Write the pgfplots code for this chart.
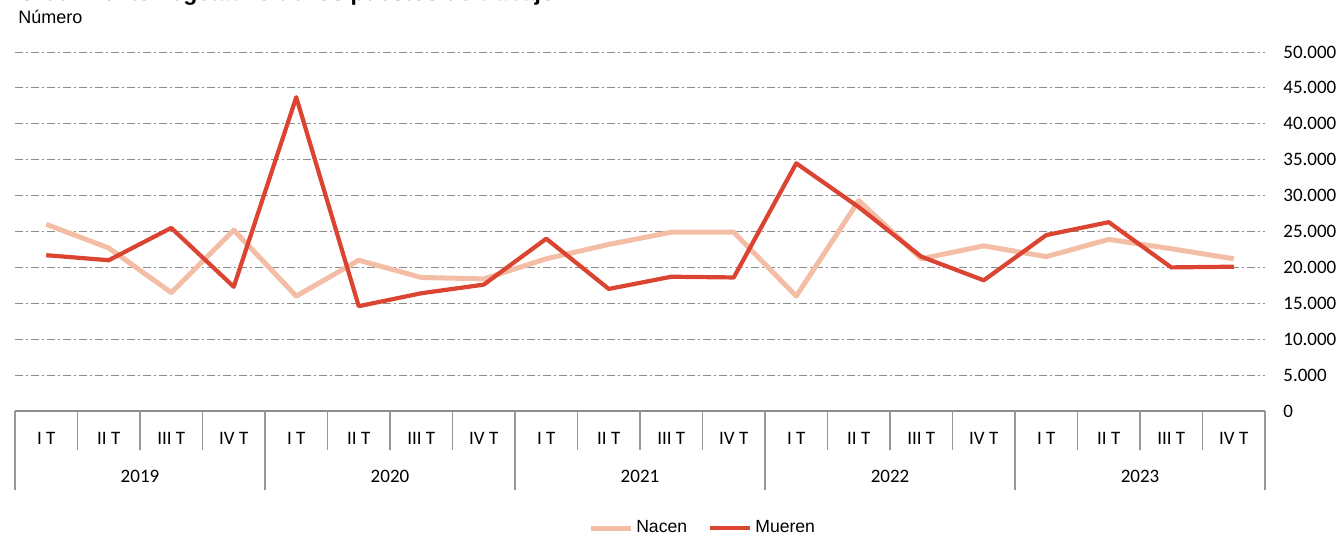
\documentclass[border=0pt]{standalone}
\usepackage{fontspec}
\setmainfont{Carlito}
\newfontfamily\arial{Liberation Sans}
\usepackage{pgfplots}
\pgfplotsset{compat=1.18}
\definecolor{nacen}{RGB}{244,190,166}
\definecolor{mueren}{RGB}{220,68,50}
\definecolor{gridc}{RGB}{140,140,140}
\definecolor{sepc}{RGB}{150,150,150}

\pgfplotstableread{
x nacen mueren
0  26000 21700
1  22700 21000
2  16500 25500
3  25200 17300
4  16000 43700
5  21000 14600
6  18600 16400
7  18400 17600
8  21200 24000
9  23200 17000
10 24900 18700
11 24900 18600
12 16000 34500
13 29300 28400
14 21200 21500
15 23000 18200
16 21500 24500
17 23900 26300
18 22600 20000
19 21200 20100
}\datatable

\begin{document}
\begin{tikzpicture}
\useasboundingbox (-7.5bp,-63bp) rectangle (663bp,205.5bp);
\begin{axis}[
  scale only axis, width=625bp, height=179.5bp,
  xmin=-0.5, xmax=19.5, ymin=0, ymax=50000,
  clip=false,
  axis line style={draw=none},
  major tick length=0pt,
  xtick={0,...,19},
  xticklabels={I T,II T,III T,IV T,I T,II T,III T,IV T,I T,II T,III T,IV T,I T,II T,III T,IV T,I T,II T,III T,IV T},
  xticklabel style={anchor=center, yshift=-13.5bp, font=\fontsize{9.5bp}{11bp}\selectfont},
  ytick={0,5000,...,50000},
  scaled y ticks=false,
  yticklabel pos=right,
  yticklabel style={anchor=west, inner sep=0pt, xshift=9bp, font=\fontsize{9.5bp}{11bp}\selectfont},
  /pgf/number format/.cd, 1000 sep={.}, assume math mode=true, /pgfplots/.cd,
  ymajorgrids,
  grid style={gridc, line width=0.5bp, dash pattern=on 4bp off 1.5bp on 1bp off 1.5bp},
  legend style={at={(0.5505,-0.326)}, anchor=center, draw=none, fill=none,
    font=\arial\fontsize{8.8bp}{10bp}\selectfont, inner sep=0pt,
    nodes={inner sep=1.5bp},
    /tikz/every even column/.append style={column sep=9bp}},
  legend columns=2,
  legend image code/.code={\draw[#1] (0bp,0bp) -- (20bp,0bp);},
]
\addplot[nacen, line width=2.5bp, line join=round] table[x=x, y=nacen] {\datatable};
\addlegendentry{Nacen}
\addplot[mueren, line width=2.1bp, line join=round] table[x=x, y=mueren] {\datatable};
\addlegendentry{Mueren}

\draw[gridc, line width=0.7bp] (axis cs:-0.5,0) -- (axis cs:19.5,0);
\pgfplotsinvokeforeach{0.5,1.5,2.5,4.5,5.5,6.5,8.5,9.5,10.5,12.5,13.5,14.5,16.5,17.5,18.5}{
  \draw[sepc, line width=0.6bp] (axis cs:#1,0) -- ([yshift=-19.5bp]axis cs:#1,0);
}
\pgfplotsinvokeforeach{-0.5,3.5,7.5,11.5,15.5,19.5}{
  \draw[sepc, line width=0.6bp] (axis cs:#1,0) -- ([yshift=-39.5bp]axis cs:#1,0);
}
\node[font=\fontsize{9.5bp}{11bp}\selectfont] at (axis cs:1.5,0) [yshift=-32.5bp] {2019};
\node[font=\fontsize{9.5bp}{11bp}\selectfont] at (axis cs:5.5,0) [yshift=-32.5bp] {2020};
\node[font=\fontsize{9.5bp}{11bp}\selectfont] at (axis cs:9.5,0) [yshift=-32.5bp] {2021};
\node[font=\fontsize{9.5bp}{11bp}\selectfont] at (axis cs:13.5,0) [yshift=-32.5bp] {2022};
\node[font=\fontsize{9.5bp}{11bp}\selectfont] at (axis cs:17.5,0) [yshift=-32.5bp] {2023};
\node[anchor=west, inner sep=0pt, font=\arial\fontsize{9bp}{10bp}\selectfont] at (axis description cs:0.0024,1.0975) {Número};
\end{axis}
\node[anchor=base west, inner sep=0pt, font=\arial\bfseries\fontsize{11.5bp}{13bp}\selectfont] at (1.5bp,205bp) {Crecimiento vegetativo de los puestos de trabajo};
\end{tikzpicture}
\end{document}
